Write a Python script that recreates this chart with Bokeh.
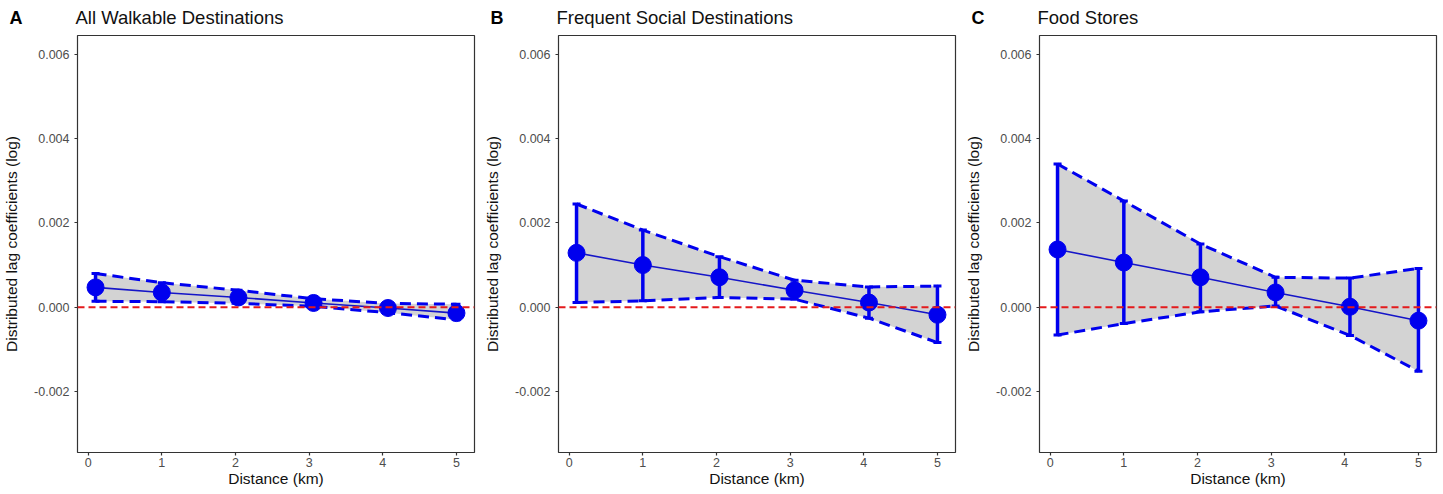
import numpy as np
from bokeh.plotting import figure
from bokeh.layouts import row, column
from bokeh.models import (ColumnDataSource, Span, FixedTicker, PrintfTickFormatter, Range1d)
from bokeh.core.properties import value
from bokeh.embed import file_html
from bokeh.resources import INLINE

# ---- data ----
distance = [0.1, 1.0, 2.04, 3.06, 4.07, 5.0]

panel_letters = ["A", "B", "C"]
panel_titles = ["All Walkable Destinations", "Frequent Social Destinations", "Food Stores"]

coef_A = [0.00047, 0.00035, 0.00023, 0.00010, -0.00002, -0.00014]
upper_A = [0.00080, 0.00058, 0.00040, 0.00020, 0.00009, 0.00007]
lower_A = [0.00014, 0.00013, 0.00009, 0.00002, -0.00013, -0.00030]

coef_B = [0.00129, 0.00100, 0.00071, 0.00040, 0.00011, -0.00018]
upper_B = [0.00245, 0.00183, 0.00120, 0.00064, 0.00048, 0.00050]
lower_B = [0.00011, 0.00015, 0.00023, 0.00019, -0.00026, -0.00084]

coef_C = [0.00137, 0.00106, 0.00071, 0.00035, 0.00001, -0.00032]
upper_C = [0.00340, 0.00252, 0.00150, 0.00071, 0.00069, 0.00092]
lower_C = [-0.00066, -0.00039, -0.00011, 0.00003, -0.00067, -0.00152]

x_ticks = [0, 1, 2, 3, 4, 5]
y_ticks = [-0.002, 0.0, 0.002, 0.004, 0.006]

FONT = "Liberation Sans"
BLUE = "#0000EE"

series = [(coef_A, upper_A, lower_A), (coef_B, upper_B, lower_B), (coef_C, upper_C, lower_C)]
FIG_W = 481
HEAD_H = 33
PLOT_H = 461

cols = []
for i, (coef, up, lo) in enumerate(series):
    # ---- header (panel letter + title) ----
    h = figure(width=FIG_W, height=HEAD_H, output_backend="svg", toolbar_location=None,
               x_range=Range1d(0, FIG_W), y_range=Range1d(0, HEAD_H),
               x_axis_type=None, y_axis_type=None,
               min_border_left=0, min_border_right=0, min_border_top=0, min_border_bottom=0)
    h.frame_align = False
    h.outline_line_color = None
    h.xgrid.visible = False
    h.ygrid.visible = False
    h.text(x=[9], y=[HEAD_H - 17], text=[panel_letters[i]], text_font=value(FONT),
           text_font_size="18px", text_font_style="bold", text_color="#000000",
           text_baseline="middle", text_align="left")
    h.text(x=[75], y=[HEAD_H - 17], text=[panel_titles[i]], text_font=value(FONT),
           text_font_size="18.5px", text_color="#111111",
           text_baseline="middle", text_align="left")

    # ---- main plot ----
    src = ColumnDataSource(dict(x=distance, y=coef, upper=up, lower=lo))
    p = figure(width=FIG_W, height=PLOT_H, output_backend="svg", toolbar_location=None,
               x_range=Range1d(-0.145, 5.245), y_range=Range1d(-0.00345, 0.00645),
               min_border_left=75, min_border_right=7,
               min_border_top=2, min_border_bottom=42)
    p.frame_align = False
    p.xgrid.visible = False
    p.ygrid.visible = False
    p.outline_line_color = "#333333"
    p.outline_line_width = 1.2
    p.background_fill_color = "white"
    p.border_fill_color = "white"

    for ax in (p.xaxis[0], p.yaxis[0]):
        ax.axis_line_color = None
        ax.major_tick_line_color = "#333333"
        ax.major_tick_line_width = 1.2
        ax.major_tick_out = 3
        ax.major_tick_in = 0
        ax.minor_tick_line_color = None
        ax.major_label_text_font = FONT
        ax.major_label_text_font_size = "12.5px"
        ax.major_label_text_color = "#4D4D4D"
        ax.axis_label_text_font = FONT
        ax.axis_label_text_font_size = "15.5px"
        ax.axis_label_text_font_style = "normal"
        ax.axis_label_text_color = "#111111"

    p.xaxis.ticker = FixedTicker(ticks=x_ticks)
    p.yaxis.ticker = FixedTicker(ticks=y_ticks)
    p.yaxis.formatter = PrintfTickFormatter(format="%.3f")
    p.xaxis.axis_label = "Distance (km)"
    p.yaxis.axis_label = "Distributed lag coefficients (log)"
    p.xaxis.major_label_standoff = 2
    p.xaxis.axis_label_standoff = 0
    p.yaxis.major_label_standoff = 5
    p.yaxis.axis_label_standoff = 11

    # confidence band
    p.varea(x="x", y1="lower", y2="upper", source=src, fill_color="#D3D3D3")
    # zero reference line
    p.add_layout(Span(location=0, dimension="width", line_color="#E41A1C",
                      line_width=2, line_dash="7 4"))
    # dashed CI boundaries
    p.line(x="x", y="upper", source=src, line_color=BLUE, line_width=3, line_dash="11 6")
    p.line(x="x", y="lower", source=src, line_color=BLUE, line_width=3, line_dash="11 6")
    # error bars (vertical bars + caps)
    p.segment(x0="x", y0="lower", x1="x", y1="upper", source=src,
              line_color=BLUE, line_width=3.5)
    p.scatter(x="x", y="upper", source=src, marker="dash", size=8,
              line_color=BLUE, line_width=3)
    p.scatter(x="x", y="lower", source=src, marker="dash", size=8,
              line_color=BLUE, line_width=3)
    # estimates
    p.line(x="x", y="y", source=src, line_color="#1515C8", line_width=1.6)
    p.scatter(x="x", y="y", source=src, size=17, fill_color=BLUE, line_color=BLUE)

    cols.append(column(h, p, spacing=0))

layout = row(*cols, spacing=0)
open("out.html", "w").write(file_html(layout, INLINE))
